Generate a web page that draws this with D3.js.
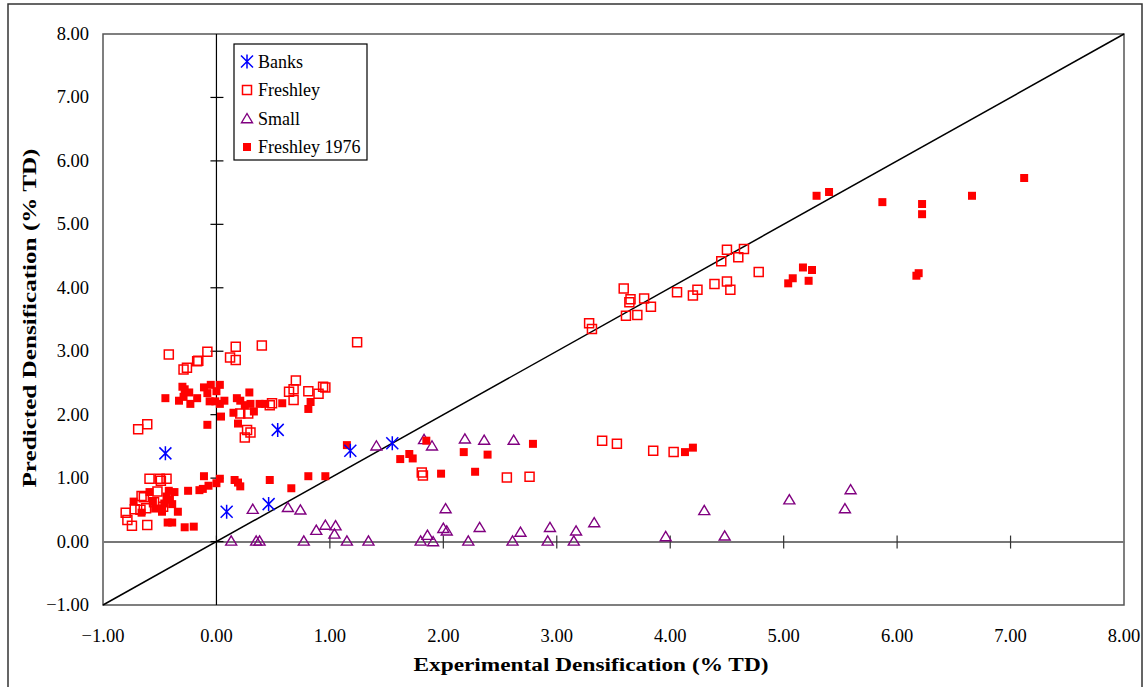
<!DOCTYPE html>
<html>
<head>
<meta charset="utf-8">
<script src="https://cdn.jsdelivr.net/npm/d3@7"></script>
<style>
  html, body { margin: 0; padding: 0; background: #fff; }
  svg { display: block; }
  text { font-family: "Liberation Serif", "Times New Roman", serif; fill: #000; }
</style>
</head>
<body>
<svg id="chart" width="1146" height="687"></svg>
<script>
// ---- Data ----
const xTicks = [-1, 0, 1, 2, 3, 4, 5, 6, 7, 8];
const yTicks = [-1, 0, 1, 2, 3, 4, 5, 6, 7, 8];
const seriesNames = ["Banks", "Freshley", "Small", "Freshley 1976"];

const banks = [[-0.45,1.39],[0.09,0.47],[0.46,0.59],[0.54,1.76],[1.18,1.43],[1.55,1.55]];

const freshley = [
  [-0.42,2.95],[-0.08,2.99],[0.17,3.07],[0.40,3.09],[-0.16,2.85],[-0.17,2.84],[-0.29,2.71],[-0.26,2.74],[0.12,2.90],[0.17,2.86],[1.24,3.14],
  [0.70,2.54],[0.68,2.40],[0.64,2.36],[0.81,2.37],[0.94,2.44],[0.96,2.43],[0.90,2.33],[0.68,2.23],[0.49,2.18],[0.47,2.15],[0.21,2.02],[0.28,2.02],[0.27,1.76],[0.30,1.72],[0.25,1.64],
  [-0.69,1.77],[-0.61,1.85],
  [-0.59,0.99],[-0.50,0.99],[-0.49,0.96],[-0.44,0.99],[-0.66,0.72],[-0.64,0.70],[-0.52,0.79],[-0.80,0.455],[-0.72,0.51],[-0.785,0.34],[-0.745,0.25],[-0.61,0.26],[-0.67,0.50],[-0.62,0.525],[-0.55,0.62],[-0.47,0.55],
  [3.285,3.44],[3.31,3.35],[3.59,3.99],[3.65,3.82],[3.64,3.77],[3.77,3.83],[3.83,3.70],[3.61,3.56],[3.71,3.57],[4.06,3.93],[4.20,3.88],[4.24,3.97],[4.39,4.06],[4.50,4.10],[4.53,3.97],[4.45,4.42],[4.50,4.60],[4.60,4.48],[4.65,4.61],[4.78,4.25],
  [1.81,1.09],[1.82,1.04],[2.56,1.01],[2.76,1.02],[3.40,1.59],[3.53,1.54],[3.85,1.43],[4.03,1.41]
];

const small = [
  [0.13,0.01],[0.35,0.01],[0.38,0.01],[0.77,0.01],[1.15,0.01],[0.32,0.51],[0.63,0.54],[0.74,0.50],[0.88,0.18],[0.96,0.26],[1.05,0.25],[1.04,0.12],[1.34,0.01],
  [1.41,1.51],[1.83,1.61],[1.90,1.51],[2.19,1.62],[2.36,1.60],[2.62,1.60],[2.02,0.52],[1.80,0.01],[1.86,0.10],[1.91,0.0],[2.00,0.21],[2.03,0.17],[2.22,0.01],[2.32,0.225],
  [2.61,0.01],[2.68,0.15],[2.92,0.01],[2.94,0.225],[3.15,0.01],[3.17,0.17],[3.33,0.30],[3.96,0.08],[4.30,0.49],[4.48,0.09],[5.05,0.66],[5.54,0.52],[5.59,0.82]
];

const freshley1976 = [
  [-0.45,2.26],[-0.30,2.44],[-0.28,2.40],[-0.24,2.35],[-0.33,2.22],[-0.29,2.28],[-0.23,2.17],[-0.17,2.26],[-0.11,2.43],[-0.05,2.47],[-0.08,2.34],[0.03,2.47],[0.00,2.37],[-0.06,2.21],[-0.01,2.21],[0.03,2.17],[0.07,2.22],[0.04,1.97],[-0.08,1.84],
  [0.29,2.35],[0.18,2.26],[0.21,2.22],[0.25,2.15],[0.30,2.17],[0.33,2.05],[0.15,2.03],[0.19,1.86],[0.38,2.17],[0.43,2.17],[0.58,2.18],[0.83,2.20],[0.81,2.09],
  [1.15,1.52],[1.85,1.59],[1.62,1.30],[1.70,1.38],[1.73,1.31],[1.98,1.07],[2.18,1.41],[2.28,1.10],[2.39,1.37],[2.79,1.54],[4.13,1.41],[4.20,1.48],
  [-0.11,1.03],[0.03,0.99],[0.00,0.92],[-0.07,0.88],[-0.12,0.83],[-0.15,0.81],[-0.25,0.80],[0.16,0.97],[0.19,0.93],[0.21,0.87],[0.47,0.97],[0.66,0.84],[0.81,1.03],[0.96,1.03],
  [-0.59,0.78],[-0.73,0.63],[-0.56,0.63],[-0.42,0.80],[-0.37,0.78],[-0.44,0.71],[-0.41,0.66],[-0.46,0.60],[-0.39,0.59],[-0.34,0.47],[-0.48,0.52],[-0.54,0.52],[-0.48,0.47],[-0.66,0.455],[-0.43,0.30],[-0.39,0.30],[-0.28,0.225],[-0.20,0.235],
  [5.29,5.45],[5.40,5.51],[5.87,5.35],[6.22,5.32],[6.22,5.16],[6.66,5.45],[7.12,5.73],[5.17,4.32],[5.25,4.28],[5.08,4.15],[5.04,4.07],[5.22,4.11],[6.19,4.23],[6.17,4.19]
];

// ---- Layout ----
const svg = d3.select("#chart");
const plot = { left: 103, top: 34, right: 1124, bottom: 605 };
const x = d3.scaleLinear().domain([-1, 8]).range([plot.left, plot.right]);
const y = d3.scaleLinear().domain([-1, 8]).range([plot.bottom, plot.top]);

// outer chart border
svg.append("rect").attr("x", 8).attr("y", 4).attr("width", 1134).attr("height", 720)
  .attr("fill", "none").attr("stroke", "#333").attr("stroke-width", 1.5);

// plot frame
svg.append("rect").attr("x", plot.left).attr("y", plot.top)
  .attr("width", plot.right - plot.left).attr("height", plot.bottom - plot.top)
  .attr("fill", "none").attr("stroke", "#555").attr("stroke-width", 1.5);

// y = 0 horizontal axis (with crossing ticks)
const xAxis = d3.axisBottom(x).tickValues(xTicks).tickSize(0).tickFormat("");
svg.append("g").attr("transform", `translate(0,${y(0)})`).call(xAxis)
  .call(g => g.select(".domain").attr("stroke", "#777").attr("stroke-width", 2));
svg.append("g").selectAll("line").data(xTicks.filter(d => d > -1 && d < 8)).join("line")
  .attr("x1", d => x(d)).attr("x2", d => x(d))
  .attr("y1", y(0) - 6).attr("y2", y(0) + 7)
  .attr("stroke", "#333").attr("stroke-width", 1.2);

// x = 0 vertical axis (with crossing ticks)
svg.append("line").attr("x1", x(0)).attr("x2", x(0)).attr("y1", plot.top).attr("y2", plot.bottom)
  .attr("stroke", "#000").attr("stroke-width", 1.2);
svg.append("g").selectAll("line").data(yTicks.filter(d => d > -1 && d < 8)).join("line")
  .attr("x1", x(0) - 6).attr("x2", x(0) + 7)
  .attr("y1", d => y(d)).attr("y2", d => y(d))
  .attr("stroke", "#000").attr("stroke-width", 1.2);

// tick labels
svg.append("g").selectAll("text").data(xTicks).join("text")
  .attr("x", d => x(d)).attr("y", 642)
  .attr("text-anchor", "middle").attr("font-size", 18.5)
  .text(d => d3.format(".2f")(d));
svg.append("g").selectAll("text").data(yTicks).join("text")
  .attr("x", 89).attr("y", d => y(d) + 6)
  .attr("text-anchor", "end").attr("font-size", 18.5)
  .text(d => d3.format(".2f")(d));

// axis titles
svg.append("text").attr("x", 591).attr("y", 671).attr("text-anchor", "middle")
  .attr("font-size", 18.5).attr("font-weight", "bold")
  .attr("textLength", 355).attr("lengthAdjust", "spacingAndGlyphs")
  .text("Experimental Densification (% TD)");
svg.append("text").attr("transform", `translate(36,318) rotate(-90)`).attr("text-anchor", "middle")
  .attr("font-size", 18.5).attr("font-weight", "bold")
  .attr("textLength", 339).attr("lengthAdjust", "spacingAndGlyphs")
  .text("Predicted Densification (% TD)");

// diagonal line y = x
svg.append("line").attr("x1", x(-1)).attr("y1", y(-1)).attr("x2", x(8)).attr("y2", y(8))
  .attr("stroke", "#000").attr("stroke-width", 1.5);

// ---- Markers ----
const asteriskPath = "M0,-7V7M-6,-6L6,6M-6,6L6,-6";
const triPath = "M0,-5L5.5,4.2L-5.5,4.2Z";

function drawSeries(data, kind) {
  const g = svg.append("g");
  const sel = g.selectAll("path").data(data).join("path")
    .attr("transform", d => `translate(${x(d[0])},${y(d[1])})`);
  if (kind === "open") {
    sel.attr("d", "M-4.5,-4.5H4.5V4.5H-4.5Z").attr("fill", "none").attr("stroke", "#ff0000").attr("stroke-width", 1.5);
  } else if (kind === "filled") {
    sel.attr("d", "M-4,-4H4V4H-4Z").attr("fill", "#ff0000").attr("stroke", "none");
  } else if (kind === "tri") {
    sel.attr("d", triPath).attr("fill", "none").attr("stroke", "#800080").attr("stroke-width", 1.4);
  } else {
    sel.attr("d", asteriskPath).attr("fill", "none").attr("stroke", "#0000ff").attr("stroke-width", 1.5);
  }
}
drawSeries(freshley, "open");
drawSeries(small, "tri");
drawSeries(freshley1976, "filled");
drawSeries(banks, "ast");

// ---- Legend ----
const leg = svg.append("g");
leg.append("rect").attr("x", 234).attr("y", 44).attr("width", 133).attr("height", 116)
  .attr("fill", "#fff").attr("stroke", "#000").attr("stroke-width", 1.2);
const legendKinds = ["ast", "open", "tri", "filled"];
const legY = d3.scalePoint().domain(seriesNames).range([61.5, 147]);
seriesNames.forEach((name, i) => {
  const cy = legY(name);
  const k = legendKinds[i];
  const p = leg.append("path").attr("transform", `translate(247,${cy})`);
  if (k === "ast") p.attr("d", asteriskPath).attr("fill", "none").attr("stroke", "#0000ff").attr("stroke-width", 1.5);
  if (k === "open") p.attr("d", "M-4.5,-4.5H4.5V4.5H-4.5Z").attr("fill", "none").attr("stroke", "#ff0000").attr("stroke-width", 1.5);
  if (k === "tri") p.attr("d", triPath).attr("fill", "none").attr("stroke", "#800080").attr("stroke-width", 1.4);
  if (k === "filled") p.attr("d", "M-4,-4H4V4H-4Z").attr("fill", "#ff0000");
  leg.append("text").attr("x", 258).attr("y", cy + 6).attr("font-size", 18).text(name);
});
</script>
</body>
</html>
